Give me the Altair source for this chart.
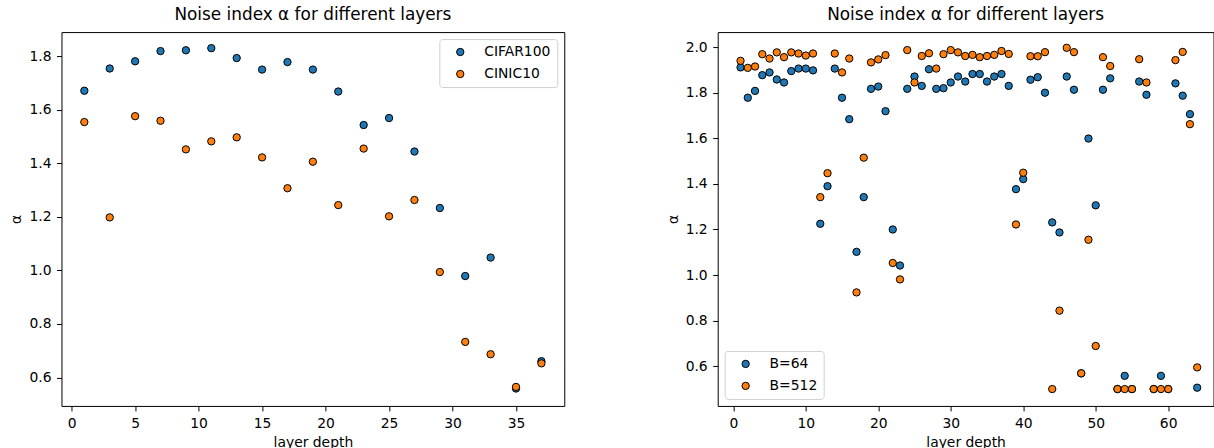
import altair as alt
import pandas as pd

# ---------------- data ----------------
depth_left = [1, 3, 5, 7, 9, 11, 13, 15, 17, 19, 21, 23, 25, 27, 29, 31, 33, 35, 37]
cifar100 = [1.671, 1.754, 1.781, 1.819, 1.822, 1.830, 1.793, 1.750, 1.778, 1.750,
            1.668, 1.543, 1.569, 1.444, 1.233, 0.979, 1.048, 0.559, 0.661]
cinic10 = [1.554, 1.198, 1.576, 1.559, 1.452, 1.482, 1.497, 1.422, 1.307, 1.406,
           1.244, 1.455, 1.202, 1.263, 0.994, 0.733, 0.687, 0.565, 0.653]

depth_right = [1, 2, 3, 4, 5, 6, 7, 8, 9, 10, 11, 12, 13, 14, 15, 16,
               17, 18, 19, 20, 21, 22, 23, 24, 25, 26, 27, 28, 29, 30, 31, 32,
               33, 34, 35, 36, 37, 38, 39, 40, 41, 42, 43, 44, 45, 46, 47, 48,
               49, 50, 51, 52, 53, 54, 55, 56, 57, 58, 59, 60, 61, 62, 63, 64]
b64 = [1.911, 1.778, 1.808, 1.877, 1.889, 1.858, 1.845, 1.895, 1.906, 1.906, 1.898, 1.225,
       1.390, 1.906, 1.778, 1.684, 1.102, 1.342, 1.817, 1.827, 1.719, 1.200, 1.042, 1.817,
       1.871, 1.830, 1.903, 1.817, 1.820, 1.845, 1.871, 1.849, 1.882, 1.882, 1.849, 1.871,
       1.882, 1.830, 1.377, 1.421, 1.857, 1.868, 1.800, 1.231, 1.187, 1.871, 1.813, 0.569,
       1.599, 1.306, 1.813, 1.863, 0.500, 0.558, 0.500, 1.849, 1.791, 0.500, 0.558, 0.500,
       1.841, 1.787, 1.706, 0.506]
b512 = [1.940, 1.909, 1.915, 1.969, 1.950, 1.977, 1.956, 1.977, 1.972, 1.963, 1.972, 1.342,
        1.447, 1.972, 1.889, 1.950, 0.924, 1.515, 1.933, 1.946, 1.965, 1.053, 0.981, 1.987,
        1.845, 1.961, 1.973, 1.906, 1.969, 1.987, 1.977, 1.961, 1.966, 1.956, 1.961, 1.966,
        1.983, 1.970, 1.222, 1.449, 1.960, 1.960, 1.978, 0.500, 0.844, 1.997, 1.978, 0.569,
        1.155, 0.689, 1.956, 1.917, 0.500, 0.500, 0.500, 1.947, 1.845, 0.500, 0.500, 0.500,
        1.943, 1.979, 1.662, 0.595]

left_names = ["CIFAR100", "CINIC10"]
right_names = ["B=64", "B=512"]
colors = ["#1f77b4", "#ff7f0e"]
title_text = "Noise index α for different layers"

left_df = pd.DataFrame({
    "depth": depth_left * 2,
    "alpha": cifar100 + cinic10,
    "series": [left_names[0]] * len(depth_left) + [left_names[1]] * len(depth_left),
})
right_df = pd.DataFrame({
    "depth": depth_right * 2,
    "alpha": b64 + b512,
    "series": [right_names[0]] * len(depth_right) + [right_names[1]] * len(depth_right),
})

FONT = "DejaVu Sans"
FS = 13.9


def axis(values, fmt, title):
    return alt.Axis(values=values, format=fmt, title=title, grid=False, domain=False,
                    tickSize=5, tickWidth=1, tickColor="black",
                    labelPadding=5.5, labelFont=FONT, labelFontSize=FS, labelColor="black",
                    titleFont=FONT, titleFontSize=FS, titleFontWeight="normal",
                    titleColor="black", titlePadding=5)


def legend(orient):
    return alt.Legend(title=None, orient=orient, offset=7, padding=6,
                      strokeColor="#d0d0d0", fillColor="rgba(255,255,255,0.8)",
                      cornerRadius=3, labelFont=FONT, labelFontSize=FS, labelColor="black",
                      symbolType="circle", symbolSize=54, symbolStrokeColor="black",
                      symbolStrokeWidth=1, symbolOpacity=1, symbolOffset=8,
                      labelOffset=17, rowPadding=7)


def panel(df, names, xdom, ydom, xticks, yticks, orient, width):
    return alt.Chart(df).mark_circle(size=54, opacity=1, stroke="black", strokeWidth=1).encode(
        x=alt.X("depth:Q", scale=alt.Scale(domain=xdom, nice=False, zero=False),
                axis=axis(xticks, "d", "layer depth")),
        y=alt.Y("alpha:Q", scale=alt.Scale(domain=ydom, nice=False, zero=False),
                axis=axis(yticks, ".1f", "α")),
        color=alt.Color("series:N", scale=alt.Scale(domain=names, range=colors),
                        legend=legend(orient)),
    ).properties(
        width=width, height=374,
        title=alt.TitleParams(title_text, font=FONT, fontSize=16.9, fontWeight="normal",
                              color="black", anchor="middle", offset=-9,
                              baseline="bottom"),
    )


left = panel(left_df, left_names, [-0.8, 38.8], [0.494, 1.890],
             [0, 5, 10, 15, 20, 25, 30, 35],
             [0.6, 0.8, 1.0, 1.2, 1.4, 1.6, 1.8], "top-right", 503)
right = panel(right_df, right_names, [-2.15, 66.25], [0.426, 2.066],
              [0, 10, 20, 30, 40, 50, 60],
              [0.6, 0.8, 1.0, 1.2, 1.4, 1.6, 1.8, 2.0], "bottom-left", 496)

chart = alt.hconcat(left, right, spacing=99.5).resolve_scale(
    color="independent").resolve_legend(color="independent").configure(
    padding={"left": 8.5, "top": 5, "right": 0, "bottom": 0},
    background="white",
    view=alt.ViewConfig(stroke="black", strokeWidth=1))

chart.save("out.html", embed_options={"renderer": "svg", "actions": False})
